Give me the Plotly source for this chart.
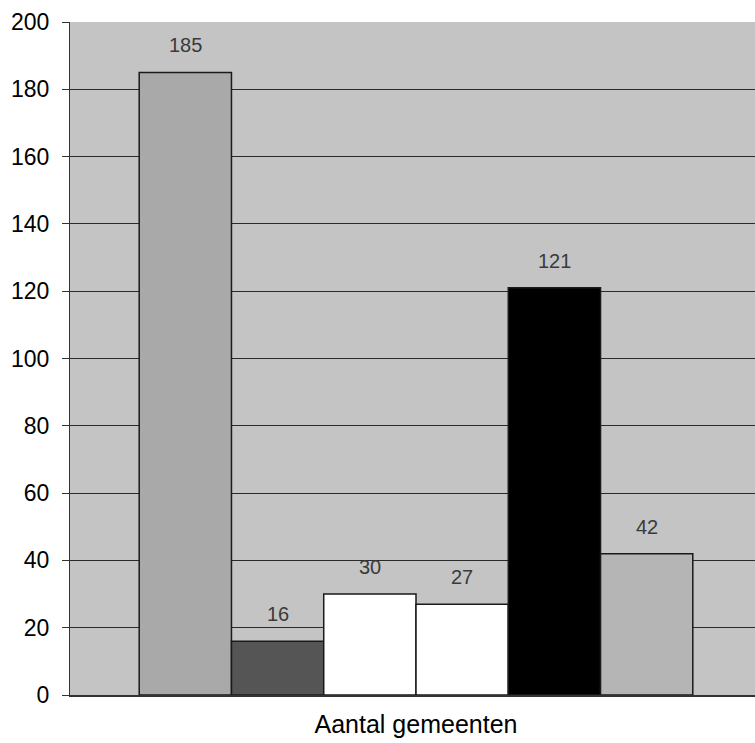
import plotly.graph_objects as go

category = ["Aantal gemeenten"]
values = [185, 16, 30, 27, 121, 42]
series_names = ["s1", "s2", "s3", "s4", "s5", "s6"]
bar_colors = ["#a9a9a9", "#555555", "#ffffff", "#ffffff", "#000000", "#b5b5b5"]
y_ticks = [0, 20, 40, 60, 80, 100, 120, 140, 160, 180, 200]

BARGAP = 0.2
n = len(values)
bar_w = (1 - BARGAP) / n

fig = go.Figure()
for name, v, c in zip(series_names, values, bar_colors):
    fig.add_trace(go.Bar(
        x=category, y=[v], name=name,
        marker=dict(color=c, line=dict(color="#1a1a1a", width=1.5)),
    ))

# value labels centred over each bar of the group
for i, v in enumerate(values):
    fig.add_annotation(
        x=-(1 - BARGAP) / 2 + (i + 0.5) * bar_w, y=v, xref="x", yref="y",
        text=str(v), showarrow=False, yanchor="bottom", yshift=14,
        font=dict(family="Liberation Sans, Arial", size=20, color="#3a3a3a"),
    )

fig.update_layout(
    width=755, height=743,
    margin=dict(l=70, r=0, t=22, b=48),
    paper_bgcolor="white",
    plot_bgcolor="#c4c4c4",
    showlegend=False,
    barmode="group",
    bargap=BARGAP, bargroupgap=0,
    font=dict(family="Liberation Sans, Arial", size=23, color="black"),
)
fig.update_xaxes(
    range=[-0.5, -0.5 + 685 / 692],
    showgrid=False, showline=True, linecolor="#333333", linewidth=1.5,
    ticks="", ticklabelstandoff=6,
    tickfont=dict(size=25),
)
fig.update_yaxes(
    range=[0, 200], tickvals=y_ticks,
    showgrid=True, gridcolor="#2a2a2a", gridwidth=1,
    showline=True, linecolor="#333333", linewidth=1,
    ticks="outside", ticklen=7, tickcolor="#333333",
    ticklabelstandoff=8,
    tickfont=dict(size=23), zeroline=False,
)
fig.write_html("out.html", config={"displayModeBar": False},
               post_script="document.body.style.margin='0';")
